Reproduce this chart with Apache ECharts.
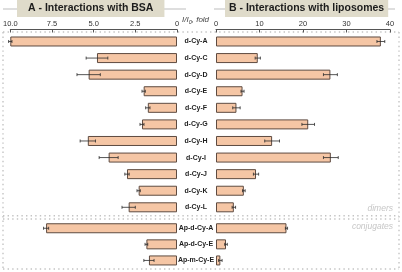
<!DOCTYPE html>
<html><head><meta charset="utf-8">
<script src="https://cdn.jsdelivr.net/npm/echarts@6/dist/echarts.min.js"></script>
<style>html,body{margin:0;padding:0;background:#fff}#c{width:402px;height:272px}</style>
</head><body><div id="c"></div>
<script>
const dimerCategories = ['d-Cy-A','d-Cy-C','d-Cy-D','d-Cy-E','d-Cy-F','d-Cy-G','d-Cy-H','d-Cy-I','d-Cy-J','d-Cy-K','d-Cy-L'];
const conjugateCategories = ['Ap-d-Cy-A','Ap-d-Cy-E','Ap-m-Cy-E'];
const bsaDimers = [10.0, 4.8, 5.3, 2.0, 1.75, 2.1, 5.35, 4.1, 3.0, 2.3, 2.9];
const bsaDimersErr = [0.1, 0.65, 0.7, 0.1, 0.13, 0.12, 0.46, 0.57, 0.13, 0.1, 0.4];
const bsaConj = [7.7, 1.8, 1.65];
const bsaConjErr = [0.15, 0.08, 0.3];
const lipoDimers = [37.9, 9.6, 26.3, 6.1, 4.7, 21.2, 12.9, 26.4, 9.2, 6.4, 4.1];
const lipoDimersErr = [0.9, 0.6, 1.6, 0.35, 0.85, 1.45, 1.7, 1.7, 0.6, 0.3, 0.4];
const lipoConj = [16.2, 2.3, 1.0];
const lipoConjErr = [0.25, 0.3, 0.4];
const bsaTicks = {min: 0, max: 10, interval: 2.5};
const lipoTicks = {min: 0, max: 40, interval: 10};

const FONT = 'Liberation Sans';
const chart = echarts.init(document.getElementById('c'), null, {renderer: 'canvas'});

function errData(vals, errs) { return vals.map((v, i) => [v, i, errs[i]]); }
function errRender(params, api) {
  const v = api.value(0), c = api.value(1), e = api.value(2);
  const p1 = api.coord([v - e, c]), p2 = api.coord([v + e, c]);
  const st = {stroke: '#2b2b2b', lineWidth: 0.8};
  return {type: 'group', children: [
    {type: 'line', shape: {x1: p1[0], y1: p1[1], x2: p2[0], y2: p2[1]}, style: st},
    {type: 'line', shape: {x1: p1[0], y1: p1[1] - 1.5, x2: p1[0], y2: p1[1] + 1.5}, style: st},
    {type: 'line', shape: {x1: p2[0], y1: p2[1] - 1.5, x2: p2[0], y2: p2[1] + 1.5}, style: st}
  ]};
}
const barStyle = {color: '#f5c6a5', borderColor: '#5e4b41', borderWidth: 1};
function barSeries(data, xi) {
  return {type: 'bar', xAxisIndex: xi, yAxisIndex: xi, data: data, barWidth: 10, itemStyle: barStyle, silent: true, animation: false};
}
function errSeries(vals, errs, xi) {
  return {type: 'custom', xAxisIndex: xi, yAxisIndex: xi, data: errData(vals, errs), renderItem: errRender,
    encode: {x: 0, y: 1}, clip: false, z: 5, silent: true, animation: false};
}
const topAxisBase = {
  type: 'value', position: 'top', offset: 3.7,
  axisLine: {show: true, lineStyle: {color: '#555', width: 1}},
  axisTick: {show: true, inside: true, length: 3, lineStyle: {color: '#555'}},
  axisLabel: {fontSize: 7.5, color: '#333', fontFamily: FONT, margin: 2},
  splitLine: {show: false}
};
const hiddenX = {type: 'value', show: false, splitLine: {show: false}};
const dotted = {stroke: '#c4c4c4', lineWidth: 1.4, lineDash: [1.4, 3.2]};

chart.setOption({
  animation: false,
  textStyle: {fontFamily: FONT},
  title: [
    {text: 'A - Interactions with BSA', left: 17, top: 0, padding: [3, 11, 3, 11], backgroundColor: '#dfdbca',
      textStyle: {fontSize: 10.5, fontWeight: 'bold', color: '#1c1c1c', fontFamily: FONT, lineHeight: 11}},
    {text: 'B - Interactions with liposomes', left: 225, top: 0, padding: [3, 4, 3, 4], backgroundColor: '#dfdbca',
      textStyle: {fontSize: 10.5, fontWeight: 'bold', color: '#1c1c1c', fontFamily: FONT, lineHeight: 11}}
  ],
  grid: [
    {left: 7, width: 170, top: 33.2, height: 182.4},
    {left: 7, width: 170, top: 220.2, height: 48.3},
    {left: 216, width: 174, top: 33.2, height: 182.4},
    {left: 216, width: 174, top: 220.2, height: 48.3}
  ],
  xAxis: [
    Object.assign({}, topAxisBase, {gridIndex: 0, inverse: true, min: bsaTicks.min, max: bsaTicks.max, interval: bsaTicks.interval,
      axisLabel: Object.assign({}, topAxisBase.axisLabel, {formatter: v => v === 0 ? '0' : v.toFixed(1)})}),
    Object.assign({}, hiddenX, {gridIndex: 1, inverse: true, min: bsaTicks.min, max: bsaTicks.max}),
    Object.assign({}, topAxisBase, {gridIndex: 2, min: lipoTicks.min, max: lipoTicks.max, interval: lipoTicks.interval}),
    Object.assign({}, hiddenX, {gridIndex: 3, min: lipoTicks.min, max: lipoTicks.max})
  ],
  yAxis: [
    {type: 'category', gridIndex: 0, data: dimerCategories, inverse: true, show: false},
    {type: 'category', gridIndex: 1, data: conjugateCategories, inverse: true, show: false},
    {type: 'category', gridIndex: 2, data: dimerCategories, inverse: true, position: 'left',
      axisLine: {show: false}, axisTick: {show: false},
      axisLabel: {align: 'center', margin: 20, fontSize: 7, fontWeight: 'bold', color: '#1e1e1e', fontFamily: FONT}},
    {type: 'category', gridIndex: 3, data: conjugateCategories, inverse: true, position: 'left',
      axisLine: {show: false}, axisTick: {show: false},
      axisLabel: {align: 'center', margin: 20, fontSize: 7, fontWeight: 'bold', color: '#1e1e1e', fontFamily: FONT}}
  ],
  series: [
    barSeries(bsaDimers, 0), barSeries(bsaConj, 1), barSeries(lipoDimers, 2), barSeries(lipoConj, 3),
    errSeries(bsaDimers, bsaDimersErr, 0), errSeries(bsaConj, bsaConjErr, 1),
    errSeries(lipoDimers, lipoDimersErr, 2), errSeries(lipoConj, lipoConjErr, 3)
  ],
  graphic: [
    {type: 'line', z: -10, shape: {x1: 3, y1: 9, x2: 186, y2: 9}, style: {stroke: '#bdbdbd', lineWidth: 1}},
    {type: 'line', z: -10, shape: {x1: 214, y1: 9, x2: 395, y2: 9}, style: {stroke: '#bdbdbd', lineWidth: 1}},
    {type: 'line', shape: {x1: 3, y1: 32, x2: 399, y2: 32}, style: dotted},
    {type: 'line', shape: {x1: 3, y1: 32, x2: 3, y2: 269}, style: dotted},
    {type: 'line', shape: {x1: 399, y1: 32, x2: 399, y2: 269}, style: dotted},
    {type: 'line', shape: {x1: 3, y1: 269, x2: 399, y2: 269}, style: dotted},
    {type: 'line', shape: {x1: 3, y1: 215.8, x2: 399, y2: 215.8}, style: dotted},
    {type: 'line', shape: {x1: 3, y1: 219, x2: 399, y2: 219}, style: dotted},
    {type: 'text', x: 182, y: 15, style: {text: 'I/I{s|0}, fold', font: 'italic 8px "Liberation Sans"', fill: '#444',
      rich: {s: {fontSize: 5.5, fontStyle: 'italic', verticalAlign: 'bottom', padding: [4, 0, 0, 0], fill: '#444'}}}},
    {type: 'text', right: 9, top: 204, style: {text: 'dimers', font: 'italic 8.5px "Liberation Sans"', fill: '#c6c6c6'}},
    {type: 'text', right: 9, top: 222, style: {text: 'conjugates', font: 'italic 8.5px "Liberation Sans"', fill: '#c6c6c6'}}
  ]
});
</script></body></html>
